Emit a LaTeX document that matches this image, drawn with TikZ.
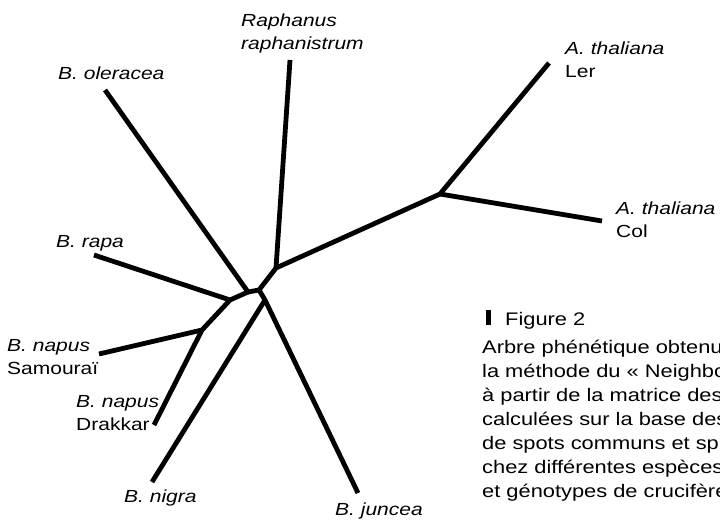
\documentclass[tikz,border=0pt]{standalone}
\usepackage{fontspec}
\setmainfont{Liberation Sans}[FakeStretch=1.2]

\begin{document}
\begin{tikzpicture}[x=1pt,y=-1pt,
  branch/.style={line width=4.8pt,line join=round},
  taxon/.style={anchor=base west,inner sep=0pt,align=left,font=\fontsize{17.5}{23}\selectfont},
  legend/.style={anchor=base west,inner sep=0pt,align=left,font=\fontsize{18.2}{24}\selectfont}]
\useasboundingbox (0,0) rectangle (720,521);
% inner nodes of the tree
\coordinate (a) at (276,268);
\coordinate (b) at (259,290);
\coordinate (c) at (265,300);
\coordinate (d) at (248,292);
\coordinate (e) at (230,300);
\coordinate (f) at (202,330);
\coordinate (ath) at (440,194);
% leaves
\coordinate (raph) at (290,60);
\coordinate (ler) at (549,63);
\coordinate (col) at (602,221);
\coordinate (ole) at (105,90);
\coordinate (rapa) at (94,255);
\coordinate (sam) at (99,354);
\coordinate (dra) at (154,425);
\coordinate (nig) at (152,482);
\coordinate (jun) at (358,493);
\draw[branch] (ole) -- (d) -- (b) -- (c) -- (jun);
\draw[branch] (raph) -- (a) -- (ath) -- (ler);
\draw[branch] (a) -- (b);
\draw[branch] (ath) -- (col);
\draw[branch] (rapa) -- (e) -- (f) -- (dra);
\draw[branch] (e) -- (d);
\draw[branch] (f) -- (sam);
\draw[branch] (c) -- (nig);
% labels (base = last line)
\node[taxon] (raphlbl) at (241,50) {\textit{Raphanus}\\\textit{raphanistrum}};
\node[taxon] (olelbl) at (58,80) {\textit{B. oleracea}};
\node[taxon] (lerlbl) at (565,78) {\textit{A. thaliana}\\Ler};
\node[taxon] (collbl) at (616,238) {\textit{A. thaliana}\\Col};
\node[taxon] (rapalbl) at (56,248) {\textit{B. rapa}};
\node[taxon] (samlbl) at (7,374) {\textit{B. napus}\\Samouraï};
\node[taxon] (dralbl) at (76,430) {\textit{B. napus}\\Drakkar};
\node[taxon] (niglbl) at (124,502) {\textit{B. nigra}};
\node[taxon] (junlbl) at (335,515) {\textit{B. juncea}};
% caption
\fill (486,310) rectangle (491,325);
\node[legend] (fig) at (505,326) {Figure 2};
\node[legend] (text) at (482,497) {Arbre phénétique obtenu\\la méthode du « Neighbo\\à partir de la matrice des\\calculées sur la base des\\de spots communs et sp\\chez différentes espèces\\et génotypes de crucifère};
\end{tikzpicture}
\end{document}
